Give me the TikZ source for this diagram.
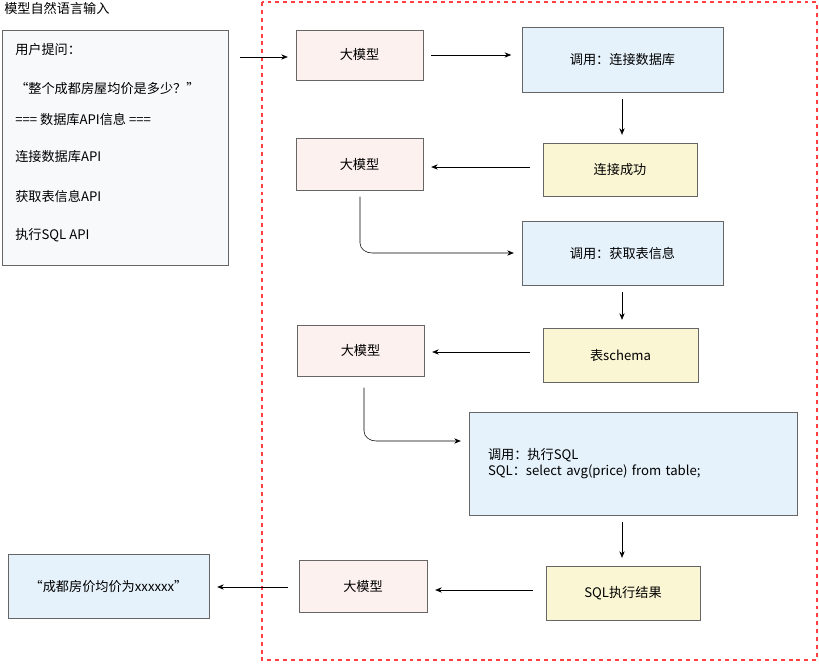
\documentclass[tikz,border=0pt]{standalone}
\usepackage{fontspec}
\setmainfont{Noto Sans CJK SC}
\usetikzlibrary{arrows.meta}
\definecolor{llmfill}{HTML}{FDF1EF}
\definecolor{callfill}{HTML}{E5F2FB}
\definecolor{retfill}{HTML}{FAF6D3}
\definecolor{infill}{HTML}{F7F9FB}
\tikzstyle{arrow} = [-{Stealth[length=5pt,width=4pt]},thin]
\tikzstyle{box} = [draw=black!60,thin,font=\fontsize{10}{12}\selectfont]
\tikzstyle{llm} = [box,fill=llmfill]
\tikzstyle{call} = [box,fill=callfill]
\tikzstyle{ret} = [box,fill=retfill]
\tikzstyle{line} = [anchor=west,font=\fontsize{10}{12}\selectfont,inner sep=0pt]

\begin{document}
\begin{tikzpicture}[x=0.0267cm,y=-0.0267cm]
        \useasboundingbox (0,0) rectangle (819,663);
        \draw[red!75,dashed,thick] (262,2) rectangle (817,660);
        \node[line] (title) at (4,8) {模型自然语言输入};

        % input box
        \draw[box,fill=infill] (2,30) rectangle (228,265);
        \node[line] (q0) at (15,50) {用户提问：};
        \node[line] (q1) at (15,89) {“整个成都房屋均价是多少？”};
        \node[line] (q2) at (15,119) {=== 数据库API信息 ===};
        \node[line] (q3) at (15,157) {连接数据库API};
        \node[line] (q4) at (15,196) {获取表信息API};
        \node[line] (q5) at (15,235) {执行SQL API};
        \coordinate (start) at (240,57);

        \node[llm,minimum width=127*0.0267cm,minimum height=50*0.0267cm] (m1) at (359.5,55) {大模型};
        \node[llm,minimum width=127*0.0267cm,minimum height=52*0.0267cm] (m2) at (359.5,164) {大模型};
        \node[llm,minimum width=127*0.0267cm,minimum height=51*0.0267cm] (m3) at (360.5,350.5) {大模型};
        \node[llm,minimum width=128*0.0267cm,minimum height=52*0.0267cm] (m4) at (363,586) {大模型};

        \node[call,minimum width=201*0.0267cm,minimum height=65*0.0267cm] (c1) at (622.5,59.5) {调用：连接数据库};
        \node[call,minimum width=201*0.0267cm,minimum height=64*0.0267cm] (c2) at (622.5,253) {调用：获取表信息};
        \node[call,minimum width=328*0.0267cm,minimum height=103*0.0267cm,align=left,text width=290*0.0267cm] (c3) at (633,463.5)
            {调用：执行SQL\\SQL：select avg(price) from table;};

        \node[ret,minimum width=154*0.0267cm,minimum height=53*0.0267cm] (r1) at (620,169.5) {连接成功};
        \node[ret,minimum width=155*0.0267cm,minimum height=54*0.0267cm] (r2) at (620.5,355) {表schema};
        \node[ret,minimum width=154*0.0267cm,minimum height=54*0.0267cm] (r3) at (623,593) {SQL执行结果};

        \node[call,minimum width=201*0.0267cm,minimum height=64*0.0267cm] (out) at (108.5,586) {“成都房价均价为xxxxxx”};

        \coordinate (bend1) at (360,190);
        \coordinate (bend2) at (364,381);
        \draw[arrow,shorten >=6pt] (start) -- (m1.west |- start);
        \draw[arrow,shorten <=6pt,shorten >=8pt] (m1) -- (m1 -| c1.west);
        \draw[arrow,shorten <=5pt,shorten >=6pt] (c1.south -| 622,0) -- (r1.north -| 622,0);
        \draw[arrow,shorten <=10pt,shorten >=6pt] (r1.west |- 0,167) -- (m2.east |- 0,167);
        \draw[arrow,shorten <=5pt] (bend1) -- ++(0,53) to[out=-90,in=180] ++(12,10) -- ([xshift=-6pt]c2.west);
        \draw[arrow,shorten <=5pt,shorten >=6pt] (c2.south -| 622,0) -- (r2.north -| 622,0);
        \draw[arrow,shorten <=10pt,shorten >=6pt] (r2.west |- 0,352) -- (m3.east |- 0,352);
        \draw[arrow,shorten <=5pt] (bend2) -- ++(0,50) to[out=-90,in=180] ++(12,10) -- ([xshift=-6pt]c3.west |- 0,441);
        \draw[arrow,shorten <=5pt,shorten >=6pt] (c3.south -| 622,0) -- (r3.north -| 622,0);
        \draw[arrow,shorten <=10pt,shorten >=6pt] (r3.west |- 0,590) -- (m4.east |- 0,590);
        \draw[arrow,shorten <=8pt,shorten >=6pt] (m4.west |- 0,587) -- (out.east |- 0,587);
    \end{tikzpicture}
\end{document}
